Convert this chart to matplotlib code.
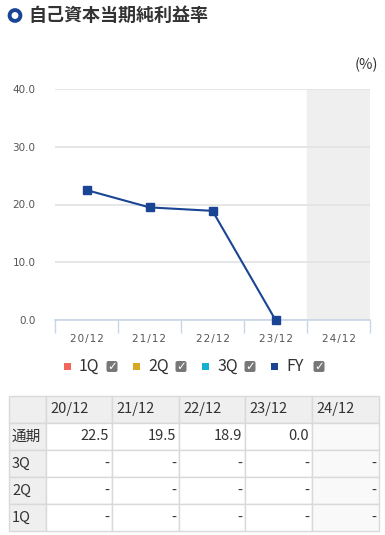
import matplotlib.pyplot as plt
from matplotlib.patches import Rectangle, FancyBboxPatch, Circle

plt.rcParams['font.family'] = ['Noto Sans CJK JP', 'DejaVu Sans']

# data
periods = ['20/12', '21/12', '22/12', '23/12', '24/12']
fy_values = [22.5, 19.5, 18.9, 0.0]
yticks = [0, 10, 20, 30, 40]
row_labels = ['通期', '3Q', '2Q', '1Q']
table_rows = [
    ['22.5', '19.5', '18.9', '0.0', ''],
    ['-', '-', '-', '-', '-'],
    ['-', '-', '-', '-', '-'],
    ['-', '-', '-', '-', '-'],
]
legend_items = [('1Q', '#f0675e'), ('2Q', '#d9a823'), ('3Q', '#16b1d1'), ('FY', '#1a4594')]

W, H = 385, 535
fig = plt.figure(figsize=(W / 100, H / 100), dpi=100)
line_color = '#1a4594'


def px(x0, y0, x1, y1):
    return [x0 / W, 1 - y1 / H, (x1 - x0) / W, (y1 - y0) / H]


# overlay axes in pixel coords for title, legend, table
ov = fig.add_axes([0, 0, 1, 1])
ov.set_xlim(0, W)
ov.set_ylim(H, 0)
ov.axis('off')

# title
ov.add_patch(Circle((15, 15.5), 5.4, facecolor='white', edgecolor='#1a4594', linewidth=2.8))
ov.text(28, 15.5, '自己資本当期純利益率', fontsize=13, fontweight='bold',
        color='#333333', va='center', ha='left')
ov.text(378, 65, '(%)', fontsize=10.5, color='#333333', va='center', ha='right')

# main chart
ax = fig.add_axes(px(55, 89, 370, 320))
x = list(range(len(periods)))
ax.axvspan(3.5, 4.5, color='#efefef', zorder=0)
ax.plot(x[:len(fy_values)], fy_values, color=line_color, linewidth=1.5,
        marker='s', markersize=6, zorder=3, clip_on=False)
ax.set_xlim(-0.5, 4.5)
ax.set_ylim(0, 40)
ax.set_yticks(yticks)
ax.set_yticklabels([f'{v:.1f}' for v in yticks], fontsize=7.5, color='#555555',
                   family='DejaVu Sans')
ax.yaxis.grid(True, color='#e2e2e2', linewidth=1.2, zorder=1)
ax.set_axisbelow(True)
ax.tick_params(axis='y', length=0, pad=14)
ax.set_xticks(x)
ax.set_xticklabels(['\u200a'.join(p) for p in periods], fontsize=7.5, color='#555555',
                   family='DejaVu Sans')
ax.set_xticks([i - 0.5 for i in range(len(periods) + 1)], minor=True)
ax.tick_params(axis='x', which='major', length=0, pad=10)
ax.tick_params(axis='x', which='minor', length=9, color='#c8d6e6', width=1)
for s in ['top', 'right', 'left']:
    ax.spines[s].set_visible(False)
ax.spines['bottom'].set_color('#c8d6e6')
ax.spines['bottom'].set_linewidth(1.2)

# legend
lx = [67, 136, 205, 274]
for (name, col), x0 in zip(legend_items, lx):
    ov.add_patch(Rectangle((x0 - 3.5, 363), 7, 7, facecolor=col, edgecolor='none'))
    ov.text(x0 + 12, 366.5, name, fontsize=11.5, color='#333333', va='center', ha='left')
    cb = x0 + 45
    ov.add_patch(FancyBboxPatch((cb - 5.5, 361), 11, 11, boxstyle='round,pad=0,rounding_size=2',
                                facecolor='#777777', edgecolor='none'))
    ov.text(cb, 366.5, '✓', fontsize=8.5, color='white', va='center', ha='center',
            fontweight='bold', family='DejaVu Sans')

# table
col_x = [9, 46, 112, 179, 245, 312, 379]
row_y = [396, 423, 450, 477, 504, 531]
border = '#d9d9d9'
for r in range(5):
    for c in range(6):
        if r == 0 or c == 0:
            fc = '#efefef'
        elif c == 5:
            fc = '#f9f9f9'
        else:
            fc = 'white'
        ov.add_patch(Rectangle((col_x[c], row_y[r]), col_x[c + 1] - col_x[c],
                               row_y[r + 1] - row_y[r], facecolor=fc, edgecolor=border,
                               linewidth=1))
for c, p in enumerate(periods):
    ov.text(col_x[c + 1] + 4, (row_y[0] + row_y[1]) / 2, p, fontsize=10.5,
            color='#333333', va='center', ha='left')
for r, lab in enumerate(row_labels):
    yc = (row_y[r + 1] + row_y[r + 2]) / 2
    ov.text(col_x[0] + 3, yc, lab, fontsize=10.5, color='#333333', va='center', ha='left')
    for c, val in enumerate(table_rows[r]):
        ov.text(col_x[c + 2] - 3, yc, val, fontsize=10.5, color='#333333',
                va='center', ha='right')

fig.savefig('out.png', dpi=100)
